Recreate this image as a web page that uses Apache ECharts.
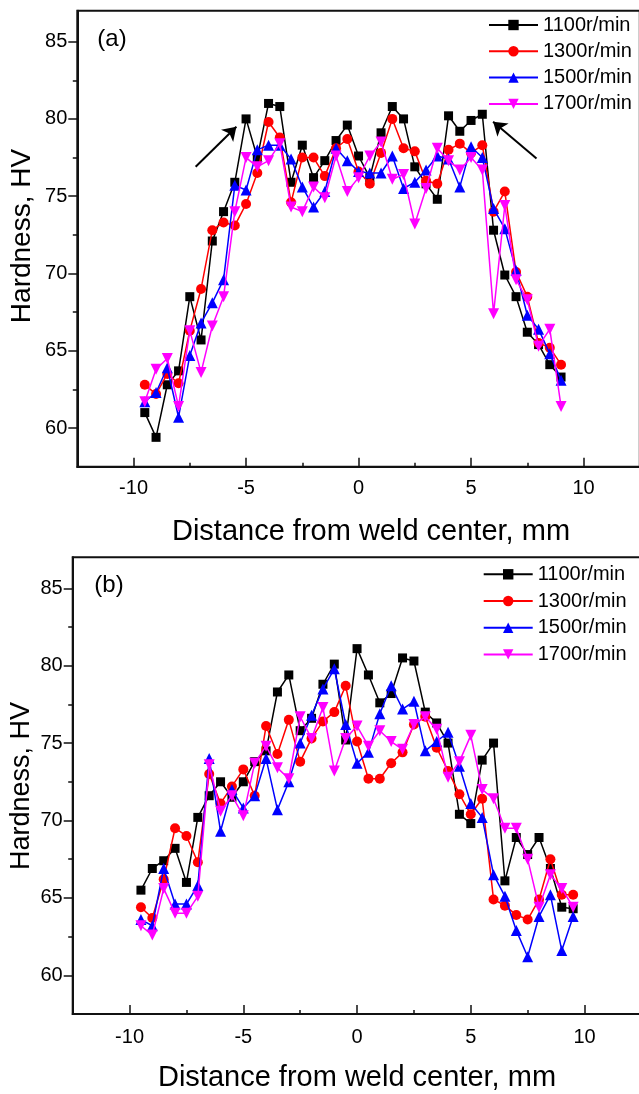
<!DOCTYPE html>
<html>
<head>
<meta charset="utf-8">
<script src="https://cdn.jsdelivr.net/npm/echarts@6/dist/echarts.min.js"></script>
<style>
html,body{margin:0;padding:0;background:#fff;}
#chart{width:639px;height:1094px;}
</style>
</head>
<body>
<div id="chart"></div>
<script>
// ---------- data ----------
const seriesNames = ['1100r/min', '1300r/min', '1500r/min', '1700r/min'];

// panel (a) positions, mm
const xA = [-9.5,-9,-8.5,-8,-7.5,-7,-6.5,-6,-5.5,-5,-4.5,-4,-3.5,-3,-2.5,-2,-1.5,-1,-0.5,0,
            0.5,1,1.5,2,2.5,3,3.5,4,4.5,5,5.5,6,6.5,7,7.5,8,8.5,9];
const a1100 = [61.0,59.4,62.8,63.7,68.5,65.7,72.1,74.0,75.9,80.0,77.5,81.0,80.8,75.9,78.3,76.2,77.3,78.6,79.6,77.6,
               76.2,79.1,80.8,80.0,76.9,75.8,74.8,80.2,79.2,79.9,80.3,72.8,69.9,68.5,66.2,65.4,64.1,63.3];
const a1300 = [62.8,62.2,63.5,62.9,66.3,69.0,72.8,73.3,73.1,74.5,76.5,79.8,78.8,74.6,77.5,77.5,76.3,78.1,78.7,76.6,
               75.8,77.8,80.0,78.1,77.9,76.0,75.8,78.0,78.4,77.8,78.3,74.0,75.3,70.1,68.5,65.5,65.2,64.1];
const a1500 = [61.7,62.3,63.9,60.7,64.7,66.8,68.1,69.6,75.7,75.4,78.0,78.3,78.3,77.4,75.6,74.3,75.3,78.1,77.3,76.6,
               76.5,76.5,77.6,75.5,75.9,76.7,77.6,77.4,75.6,78.2,77.5,74.2,72.9,70.2,67.3,66.4,64.8,63.1];
const a1700 = [61.7,63.8,64.5,61.4,66.3,63.6,66.6,68.5,74.0,77.5,76.9,77.3,78.4,74.3,74.0,75.6,74.9,77.6,75.3,76.2,
               77.6,78.5,76.1,76.4,73.2,75.5,78.1,77.3,76.7,77.5,76.7,67.4,74.4,69.6,68.3,65.3,66.4,61.4];

// panel (b) positions, mm
const xB = [-9.5,-9,-8.5,-8,-7.5,-7,-6.5,-6,-5.5,-5,-4.5,-4,-3.5,-3,-2.5,-2,-1.5,-1,-0.5,0,
            0.5,1,1.5,2,2.5,3,3.5,4,4.5,5,5.5,6,6.5,7,7.5,8,8.5,9,9.5];
const b1100 = [65.5,66.9,67.4,68.2,66.0,70.2,71.6,72.5,71.5,72.5,73.8,74.5,78.3,79.4,75.8,76.6,78.8,80.1,75.2,81.1,
               79.4,77.6,78.2,80.5,80.3,77.0,76.3,75.0,70.4,69.8,73.9,75.0,66.1,68.9,67.8,68.9,66.9,64.4,64.3];
const b1300 = [64.4,63.7,66.2,69.5,69.0,67.3,73.0,71.1,72.2,73.3,71.6,76.1,74.3,76.5,73.8,75.3,76.4,77.0,78.7,75.1,
               72.7,72.7,73.7,74.4,76.2,76.7,74.7,73.2,71.7,70.4,71.4,64.9,64.5,63.9,63.6,64.9,67.5,65.2,65.2];
const b1500 = [63.6,63.2,66.9,64.6,64.6,65.8,74.0,69.3,72.0,70.8,71.6,74.0,70.7,72.5,75.0,76.8,78.5,79.8,76.2,73.7,
               74.4,76.9,78.7,77.2,77.7,74.5,75.1,75.7,73.5,71.1,70.2,66.5,65.1,62.9,61.2,63.8,65.2,61.6,63.8];
const b1700 = [63.2,62.6,65.6,64.0,64.0,65.1,73.6,70.6,71.6,70.3,73.7,74.8,73.4,72.7,76.7,75.3,77.3,73.2,75.3,76.1,
               74.8,75.8,75.1,74.6,76.2,76.7,75.9,72.8,73.8,75.5,72.0,71.4,69.5,69.5,67.5,64.4,66.5,65.6,64.4];

// axes
const xMajorTicks = [-10, -5, 0, 5, 10];
const xMinorTicks = [-12.5, -10, -7.5, -5, -2.5, 0, 2.5, 5, 7.5, 10, 12.5];
const yMajorTicks = [60, 65, 70, 75, 80, 85];
const yMinorTicks = [60, 62.5, 65, 67.5, 70, 72.5, 75, 77.5, 80, 82.5, 85];

// arrow annotations in panel (a): [tail, head] in data units
const arrowsA = [[[-7.24, 76.9], [-5.43, 79.49]], [[7.91, 77.44], [5.98, 79.81]]];

// ---------- chart ----------
const FONT = '"Liberation Sans", Arial, sans-serif';
const AXC = '#111';
const colors = ['#000000', '#ff0000', '#0000ff', '#ff00ff'];
const symbols = ['rect', 'circle', 'triangle', 'path://M0,0L2,0L1,1.732Z'];
const symSizes = [9, 10, 11, 11];

const chart = echarts.init(document.getElementById('chart'), null, {renderer: 'canvas'});

function mainX(gi, margin) {
  return {
    gridIndex: gi, type: 'value', position: 'bottom', min: -12.5, max: 12.5, interval: 2.5,
    axisLine: {show: true, onZero: false, lineStyle: {color: AXC, width: 2}},
    axisTick: {show: true, inside: true, length: 4, customValues: xMinorTicks, lineStyle: {color: AXC, width: 1.5}},
    axisLabel: {show: true, customValues: xMajorTicks, margin: margin, fontSize: 20, fontFamily: FONT, color: '#000',
      formatter: v => (v % 5 === 0 && Math.abs(v) <= 10 ? String(v) : '')},
    splitLine: {show: false}
  };
}
function majorX(gi) {
  return {
    gridIndex: gi, type: 'value', position: 'bottom', min: -12.5, max: 12.5, interval: 2.5,
    axisLine: {show: false, onZero: false},
    axisTick: {show: true, inside: true, length: 9, customValues: xMajorTicks, lineStyle: {color: AXC, width: 1.5}},
    axisLabel: {show: false}, splitLine: {show: false}
  };
}
function mainY(gi) {
  return {
    gridIndex: gi, type: 'value', position: 'left', min: 57.5, max: 87, interval: 2.5,
    axisLine: {show: true, onZero: false, lineStyle: {color: AXC, width: 2}},
    axisTick: {show: true, inside: false, length: 4.5, customValues: yMinorTicks, lineStyle: {color: AXC, width: 1.5}},
    axisLabel: {show: true, customValues: yMajorTicks, margin: 10, fontSize: 20, fontFamily: FONT, color: '#000',
      formatter: v => (v % 5 === 0 && v >= 60 && v <= 85 ? String(v) : '')},
    splitLine: {show: false}
  };
}
function majorY(gi) {
  return {
    gridIndex: gi, type: 'value', position: 'left', min: 57.5, max: 87, interval: 2.5,
    axisLine: {show: false, onZero: false},
    axisTick: {show: true, inside: false, length: 9, customValues: yMajorTicks, lineStyle: {color: AXC, width: 1.5}},
    axisLabel: {show: false}, splitLine: {show: false}
  };
}

function makeSeries(xs, ys, k, axisIdx, extra) {
  const s = {
    name: seriesNames[k], type: 'line', xAxisIndex: axisIdx, yAxisIndex: axisIdx,
    data: xs.map((x, i) => [x, ys[i]]),
    symbol: symbols[k], symbolSize: symSizes[k], showSymbol: true,
    itemStyle: {color: colors[k], borderWidth: 0},
    lineStyle: {color: colors[k], width: 1.5},
    emphasis: {disabled: true}, animation: false, z: 2 + k
  };
  return Object.assign(s, extra || {});
}

const arrowMark = {
  silent: true, symbol: ['none', 'arrow'], symbolSize: 13, animation: false,
  itemStyle: {color: '#000'},
  lineStyle: {color: '#000', width: 2, type: 'solid'}, label: {show: false}, emphasis: {disabled: true},
  data: arrowsA.map(p => [{coord: p[0], symbol: 'none'}, {coord: p[1], symbol: 'arrow', symbolSize: 13}])
};

const seriesA = [a1100, a1300, a1500, a1700].map((d, k) =>
  makeSeries(xA, d, k, 0, k === 0 ? {markLine: arrowMark} : null));
const seriesB = [b1100, b1300, b1500, b1700].map((d, k) => makeSeries(xB, d, k, 1));

function legendAt(left, top, gap) {
  return {
    data: seriesNames, orient: 'vertical', left: left, top: top, padding: 0,
    itemWidth: 49, itemHeight: 13, itemGap: gap, selectedMode: false,
    textStyle: {fontSize: 20, lineHeight: 20, fontFamily: FONT, color: '#000'}
  };
}

function title(text, x, y, size, rot) {
  return {type: 'text', x: x, y: y, rotation: rot || 0, silent: true,
    style: {text: text, fontSize: size, fontFamily: FONT, fill: '#000', align: 'center', verticalAlign: 'middle'}};
}

chart.setOption({
  backgroundColor: '#ffffff',
  animation: false,
  grid: [
    {left: 77.3, top: 10.7, width: 562.5, height: 456, show: true, borderColor: AXC, borderWidth: 2,
     backgroundColor: 'transparent', containLabel: false, outerBoundsMode: 'none'},
    {left: 72.7, top: 557.3, width: 568.7, height: 456.7, show: true, borderColor: AXC, borderWidth: 2,
     backgroundColor: 'transparent', containLabel: false, outerBoundsMode: 'none'}
  ],
  xAxis: [mainX(0, 12), mainX(1, 13), majorX(0), majorX(1)],
  yAxis: [mainY(0), mainY(1), majorY(0), majorY(1)],
  legend: [legendAt(488, 15, 6.3), legendAt(482.7, 564.3, 6.7)],
  graphic: [
    title('(a)', 112, 39, 24),
    title('(b)', 109, 585, 24),
    title('Distance from weld center, mm', 371, 532, 29),
    title('Distance from weld center, mm', 357, 1078, 29),
    title('Hardness, HV', 22, 236, 28, Math.PI / 2),
    title('Hardness, HV', 22, 786, 27, Math.PI / 2)
  ],
  series: seriesA.concat(seriesB)
});
</script>
</body>
</html>
